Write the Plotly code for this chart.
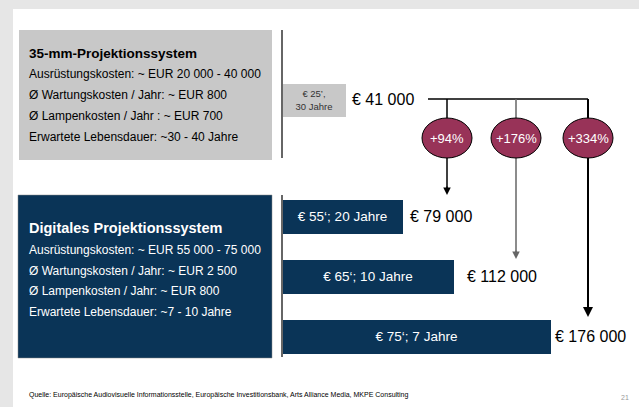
import plotly.graph_objects as go

# data
analog_label = ["€ 25’,<br>30 Jahre"]
analog_cost = [41000]
digital_labels = ["€ 55‘; 20 Jahre", "€ 65‘; 10 Jahre", "€ 75‘; 7 Jahre"]
digital_costs = [79000, 112000, 176000]
increase_labels = ["+94%", "+176%", "+334%"]

analog_title = "35-mm-Projektionssystem"
analog_lines = [
    "Ausrüstungskosten: ~ EUR 20 000 - 40 000",
    "Ø Wartungskosten / Jahr: ~ EUR 800",
    "Ø Lampenkosten / Jahr : ~ EUR 700",
    "Erwartete Lebensdauer: ~30 - 40 Jahre",
]
digital_title = "Digitales Projektionssystem"
digital_lines = [
    "Ausrüstungskosten: ~ EUR 55 000 - 75 000",
    "Ø Wartungskosten / Jahr: ~ EUR 2 500",
    "Ø Lampenkosten / Jahr: ~ EUR 800",
    "Erwartete Lebensdauer: ~7 - 10 Jahre",
]
source = ("Quelle: Europäische Audiovisuelle Informationsstelle, Europäische Investitionsbank, "
          "Arts Alliance Media, MKPE Consulting")

W, H = 639, 407
FONT = "Liberation Sans, Arial, sans-serif"
NAVY = "#0a3457"
GRAY = "#c8c8c8"
MAROON = "#983358"


def px(x):
    return x / W


def py(y):
    return 1 - y / H


def euro(v):
    return "€ " + f"{v:,}".replace(",", " ")


def note(x, y, text, size, color, xanchor="left", **kw):
    return dict(xref="paper", yref="paper", x=px(x), y=py(y), text=text, xanchor=xanchor,
                yanchor="middle", showarrow=False, font=dict(size=size, color=color, family=FONT), **kw)


fig = go.Figure()
fig.add_trace(go.Bar(
    x=analog_cost, y=["analog"], orientation="h", yaxis="y2", width=0.55,
    marker=dict(color=GRAY, line=dict(width=0)),
    text=analog_label, textposition="inside", insidetextanchor="middle",
    textfont=dict(size=9.5, color="#333333", family=FONT), hoverinfo="skip",
))
fig.add_trace(go.Bar(
    x=digital_costs, y=digital_labels, orientation="h", width=0.583,
    marker=dict(color=NAVY, line=dict(width=0)),
    text=digital_labels, textposition="inside", insidetextanchor="middle",
    textfont=dict(size=13.5, color="white", family=FONT), hoverinfo="skip",
))

shapes = [
    # white page
    dict(type="rect", xref="paper", yref="paper", x0=px(13), x1=1, y0=0, y1=py(9),
         fillcolor="white", line=dict(width=0), layer="below"),
    # left boxes
    dict(type="rect", xref="paper", yref="paper", x0=px(19), x1=px(272), y0=py(160), y1=py(30),
         fillcolor=GRAY, line=dict(width=0), layer="below"),
    dict(type="rect", xref="paper", yref="paper", x0=px(18), x1=px(272), y0=py(358), y1=py(195),
         fillcolor=NAVY, line=dict(color="#888888", width=0.5), layer="below"),
    # axis lines
    dict(type="line", xref="paper", yref="paper", x0=px(282), x1=px(282), y0=py(30), y1=py(158),
         line=dict(color="#333333", width=1.5)),
    dict(type="line", xref="paper", yref="paper", x0=px(282), x1=px(282), y0=py(195), y1=py(357),
         line=dict(color="#333333", width=1.5)),
    # connector
    dict(type="line", xref="paper", yref="paper", x0=px(428), x1=px(588), y0=py(99), y1=py(99),
         line=dict(color="black", width=1.5)),
]

bubble_x = [447, 516, 588]
arrow_tip = [195, 259, 317]
line_colors = ["black", "#666666", "black"]
line_widths = [1.5, 1.5, 2]
annotations = []
for i, lab in enumerate(increase_labels):
    cx = bubble_x[i]
    shapes.append(dict(type="line", xref="paper", yref="paper", x0=px(cx), x1=px(cx),
                       y0=py(99), y1=py(arrow_tip[i] - 6),
                       line=dict(color=line_colors[i], width=line_widths[i])))
    shapes.append(dict(type="circle", xref="paper", yref="paper",
                       x0=px(cx - 25), x1=px(cx + 25), y0=py(158), y1=py(118),
                       fillcolor=MAROON, line=dict(color="black", width=1)))
    annotations.append(note(cx, 138, lab, 13, "white", xanchor="center"))
    annotations.append(dict(xref="paper", yref="paper", x=px(cx), y=py(arrow_tip[i]), text="",
                            showarrow=True, arrowhead=2, arrowsize=1, arrowwidth=line_widths[i],
                            arrowcolor=line_colors[i], ax=0, ay=-10, standoff=0))

# value labels
annotations.append(dict(x=analog_cost[0], y="analog", xref="x", yref="y2", text=euro(analog_cost[0]),
                        xanchor="left", yanchor="middle", xshift=5, showarrow=False,
                        font=dict(size=16, color="black", family=FONT)))
label_shift = [5, 12, 2]
for lab, v, s in zip(digital_labels, digital_costs, label_shift):
    annotations.append(dict(x=v, y=lab, xref="x", yref="y", text=euro(v), xanchor="left",
                            yanchor="middle", xshift=s, showarrow=False,
                            font=dict(size=16, color="black", family=FONT)))

# box texts
annotations.append(note(27, 53, "<b>" + analog_title + "</b>", 13.5, "black"))
for i, t in enumerate(analog_lines):
    annotations.append(note(27, 74 + 21 * i, t, 12, "black"))
annotations.append(note(27, 228, "<b>" + digital_title + "</b>", 14.5, "white"))
for i, t in enumerate(digital_lines):
    annotations.append(note(27, 250 + 20.7 * i, t, 12, "white"))

annotations.append(note(27, 395, source, 7, "black"))
annotations.append(note(631, 397, "21", 7, "#999999", xanchor="right"))

fig.update_layout(
    width=W, height=H,
    margin=dict(t=0, l=0, r=0, b=0),
    paper_bgcolor="#e6e6e6",
    plot_bgcolor="rgba(0,0,0,0)",
    showlegend=False,
    bargap=0,
    xaxis=dict(range=[0, 200000], domain=[px(282.5), px(282.5 + 305)], visible=False),
    yaxis=dict(range=[2.5, -0.5], domain=[py(366.5), py(186.5)], visible=False, anchor="x"),
    yaxis2=dict(range=[-0.5, 0.5], domain=[py(129.5), py(69.5)], visible=False, anchor="x"),
    shapes=shapes,
    annotations=annotations,
)

fig.write_html("out.html", config={"displayModeBar": False},
               post_script="document.body.style.margin='0';")
